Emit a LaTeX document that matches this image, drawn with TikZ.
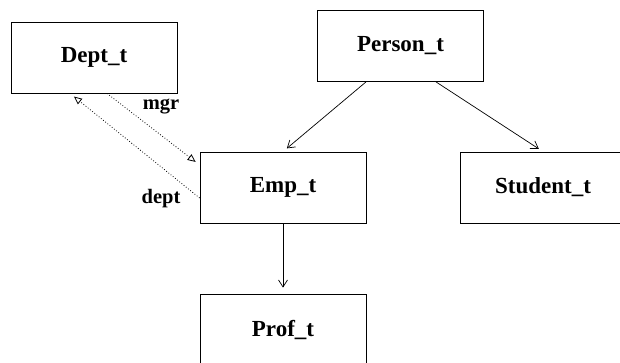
\documentclass[tikz,border=0pt]{standalone}
\usepackage{fontspec}
\setmainfont{Liberation Serif}
\usetikzlibrary{arrows.meta,calc}
\begin{document}
\begin{tikzpicture}[x=1pt,y=-1pt,
  typebox/.style={draw,line width=0.8pt,minimum width=166pt,minimum height=71pt,inner sep=0pt,font=\fontsize{23}{25}\selectfont\bfseries},
  isa/.style={line width=0.7pt,-{Straight Barb[length=7pt,width=9pt]}},
  refarrow/.style={line width=0.8pt,dotted,-{Triangle[open,length=8pt,width=7pt]}},
  lbl/.style={font=\fontsize{20.5}{22}\selectfont\bfseries,inner sep=0pt}]
\useasboundingbox (0,0) rectangle (620,362);
\node[typebox] (dept) at (94,57.5) {Dept\_t};
\node[typebox] (person) at (400.5,46) {Person\_t};
\node[typebox] (emp) at (283,187.5) {Emp\_t};
\node[typebox] (student) at (543,187.5) {Student\_t};
\node[typebox] (prof) at (283,329.5) {Prof\_t};
\draw[isa,shorten >=5pt] ($(person.south)+(-34.5,0)$) -- (emp.north);
\draw[isa,shorten >=5pt] ($(person.south)+(35.5,0)$) -- (student.north);
\draw[isa,shorten >=6pt] (emp.south) -- (prof.north);
\draw[refarrow,shorten >=5pt] ($(dept.south)+(13,0)$) -- ($(emp.west)+(0,-22.5)$);
\draw[refarrow,shorten >=5pt] ($(emp.west)+(0,10.5)$) -- ($(dept.south)+(-24,0)$);
\node[lbl] (mgr) at (161,106) {mgr};
\node[lbl] (deptlbl) at (161,199) {dept};
\end{tikzpicture}
\end{document}
